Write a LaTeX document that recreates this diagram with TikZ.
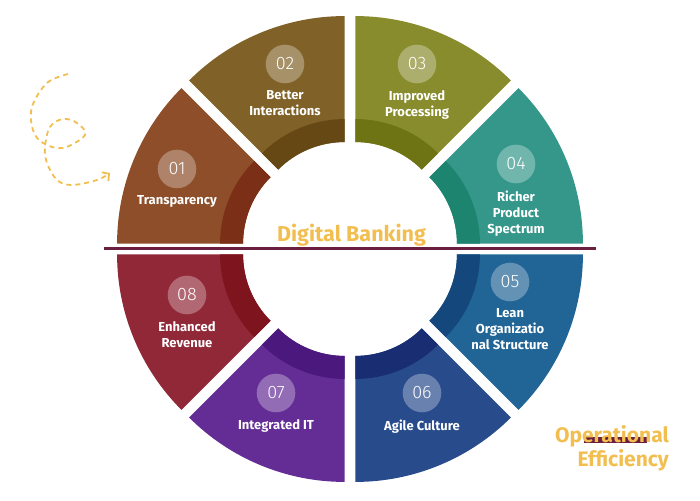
\documentclass[tikz,border=0pt]{standalone}
\usepackage{fontspec}
\setmainfont{Fira Sans}
\newfontfamily\numfont{Fira Sans}[UprightFont={* Light}]
\usepackage{xcolor}
\definecolor{dbrust}{RGB}{141,78,41}
\definecolor{dbrustd}{RGB}{122,47,22}
\definecolor{dbolive}{RGB}{128,98,40}
\definecolor{dbolived}{RGB}{102,72,20}
\definecolor{dbmoss}{RGB}{136,140,45}
\definecolor{dbmossd}{RGB}{110,115,20}
\definecolor{dbteal}{RGB}{52,151,138}
\definecolor{dbteald}{RGB}{29,132,112}
\definecolor{dbsky}{RGB}{33,100,150}
\definecolor{dbskyd}{RGB}{20,72,125}
\definecolor{dbnavy}{RGB}{40,75,140}
\definecolor{dbnavyd}{RGB}{25,45,115}
\definecolor{dbpurple}{RGB}{100,45,150}
\definecolor{dbpurpled}{RGB}{75,25,125}
\definecolor{dbcrimson}{RGB}{145,40,55}
\definecolor{dbcrimsond}{RGB}{125,20,30}
\definecolor{dbgold}{RGB}{242,190,80}
\definecolor{dbmaroon}{RGB}{106,30,64}
\usetikzlibrary{arrows.meta,positioning}
\tikzset{
  numdot/.style={circle, fill=white, fill opacity=0.3, text opacity=1, text=white,
                 minimum size=38.6pt, inner sep=0pt, font=\numfont\fontsize{18}{18}\selectfont},
  lbl/.style={text=white, align=center, inner sep=0pt,
              font=\bfseries\fontsize{13}{16}\selectfont},
  headline/.style={text=dbgold, inner sep=0pt, font=\bfseries\fontsize{21.5}{21.5}\selectfont},
  sidenote/.style={text=dbgold, inner sep=0pt, align=right,
                   font=\bfseries\fontsize{21}{23.3}\selectfont},
  swirl/.style={dbgold, line width=1.8pt, dash pattern=on 5pt off 4pt,
                -{Straight Barb[length=5pt,width=11pt]}},
}

\begin{document}
\begin{tikzpicture}[x=1pt, y=1pt]
\useasboundingbox (0,0) rectangle (700,500);

% ring of segments
\begin{scope}[shift={(350,251)}]
  \foreach \a/\c/\k in {135/dbrust/dbrustd, 90/dbolive/dbolived, 45/dbmoss/dbmossd,
                         0/dbteal/dbteald, -45/dbsky/dbskyd, -90/dbnavy/dbnavyd,
                         -135/dbpurple/dbpurpled, -180/dbcrimson/dbcrimsond} {
    \begin{scope}[shift={(\a+22.5:14)}]
      \fill[\c] (\a:220) arc[start angle=\a, end angle=\a+45, radius=220]
        -- (\a+45:94) arc[start angle=\a+45, end angle=\a, radius=94] -- cycle;
      \fill[\k] (\a:117) arc[start angle=\a, end angle=\a+45, radius=117]
        -- (\a+45:94) arc[start angle=\a+45, end angle=\a, radius=94] -- cycle;
    \end{scope}
  }
\end{scope}

% divider
\coordinate (divl) at (104,251.8);
\coordinate (divr) at (596,251.8);
\draw[dbmaroon, line width=3pt] (divl) -- (divr);

% numbers and labels
\node[numdot] (n1) at (177,331) {01};
\node[lbl, below=7pt of n1] (t1) {Transparency};
\node[numdot] (n2) at (285,436) {02};
\node[lbl, below=7pt of n2] (t2) {Better\\Interactions};
\node[numdot] (n3) at (417,436) {03};
\node[lbl, below=7pt of n3] (t3) {Improved\\Processing};
\node[numdot] (n4) at (516,336) {04};
\node[lbl, below=7pt of n4] (t4) {Richer\\Product\\Spectrum};
\node[numdot] (n5) at (510,218) {05};
\node[lbl, below=7pt of n5] (t5) {Lean\\Organizatio\\nal Structure};
\node[numdot] (n6) at (422,107) {06};
\node[lbl, below=7pt of n6] (t6) {Agile Culture};
\node[numdot] (n7) at (276,107) {07};
\node[lbl, below=7pt of n7] (t7) {Integrated IT};
\node[numdot] (n8) at (187,205) {08};
\node[lbl, below=7pt of n8] (t8) {Enhanced\\Revenue};

% titles
\node[headline, anchor=base] (title) at (351.5,258.3) {Digital Banking};
\fill[dbmaroon] (584,57.3) rectangle (647,63.3);
\node[sidenote, anchor=north east] (side) at (669,74.5) {Operational\\Efficiency};

% dashed swirl
\draw[swirl] plot[smooth, tension=0.6] coordinates {(68,426) (47,417) (32,393) (33,370)
  (43,357) (63,352) (85,365) (77,377) (63,381) (50,373) (45,353) (47,337) (57,320)
  (72,315) (97,320) (110,327)};

\end{tikzpicture}
\end{document}
